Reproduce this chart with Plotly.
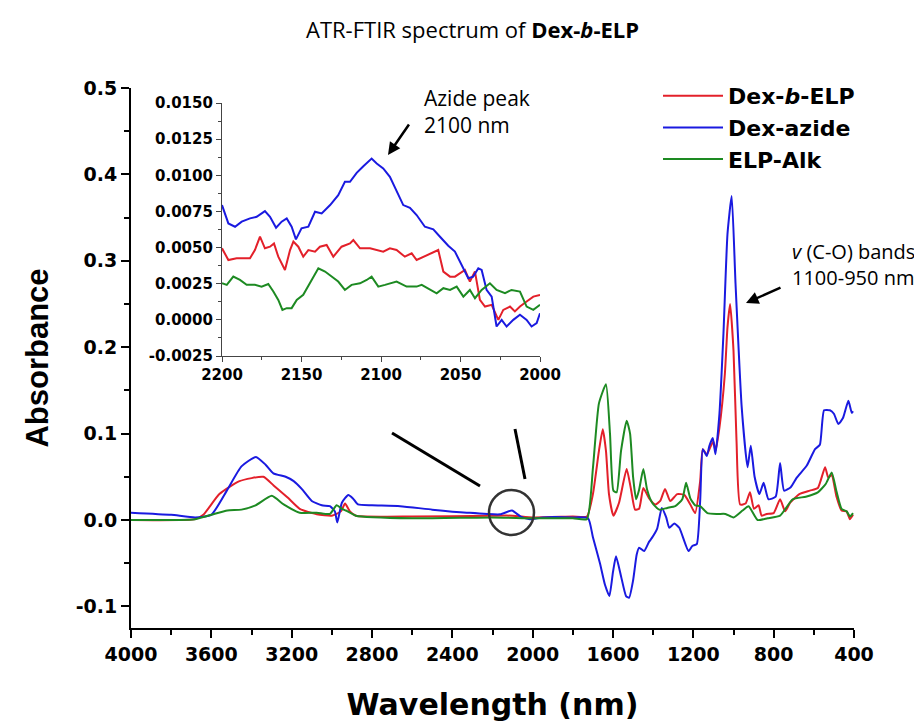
import plotly.graph_objects as go

# ---------------- data ----------------
# main spectrum: wavenumber axis labelled "Wavelength (nm)"
dexb_x = [4000, 3680, 3640, 3560, 3460, 3341, 3290, 3220, 3160, 3075, 3000, 2955, 2934, 2910, 2880,
          2600, 2200, 2100, 2000, 1800, 1730, 1700, 1670, 1651, 1635, 1620, 1598, 1570, 1532, 1510,
          1490, 1470, 1449, 1420, 1390, 1365, 1341, 1315, 1280, 1245, 1215, 1191, 1166, 1153, 1133,
          1116, 1100, 1090, 1070, 1043, 1030, 1017, 1000, 985, 967, 940, 918, 898, 875, 860, 835,
          800, 768, 743, 718, 672, 620, 580, 544, 528, 511, 487, 462, 437, 420, 405]
dexb_y = [0.0, 0.001, 0.006, 0.030, 0.045, 0.050, 0.040, 0.026, 0.013, 0.0066, 0.005, 0.010, 0.019, 0.010, 0.005,
          0.004, 0.005, 0.005, 0.003, 0.004, 0.004, 0.030, 0.080, 0.105, 0.080, 0.030, 0.005, 0.020, 0.059, 0.035,
          0.012, 0.013, 0.037, 0.025, 0.018, 0.022, 0.036, 0.022, 0.030, 0.029, 0.018, 0.008, 0.045, 0.082, 0.076,
          0.084, 0.091, 0.080, 0.107, 0.169, 0.223, 0.250, 0.196, 0.092, 0.018, 0.019, 0.032, 0.013, 0.017, 0.005, 0.007,
          0.008, 0.024, 0.010, 0.020, 0.030, 0.034, 0.037, 0.061, 0.049, 0.052, 0.027, 0.011, 0.010, 0.001, 0.006]

dexaz_x = [4000, 3800, 3680, 3600, 3523, 3450, 3378, 3330, 3291, 3230, 3190, 3150, 3100, 3050, 3010,
           2985, 2973, 2950, 2918, 2895, 2870, 2800, 2660, 2500, 2328, 2162, 2103, 2060, 2013, 1950,
           1800, 1724, 1700, 1665, 1640, 1618, 1600, 1585, 1560, 1535, 1520, 1500, 1482, 1470, 1445,
           1420, 1407, 1380, 1357, 1335, 1320, 1295, 1270, 1224, 1205, 1183, 1166, 1153, 1133, 1120,
           1103, 1090, 1070, 1050, 1030, 1009, 990, 959, 930, 914, 895, 871, 850, 826, 790, 768, 748,
           715, 685, 635, 594, 570, 549, 520, 500, 478, 455, 428, 411, 405]
dexaz_y = [0.0085, 0.006, 0.003, 0.006, 0.034, 0.062, 0.073, 0.064, 0.054, 0.050, 0.045, 0.036, 0.022, 0.017, 0.016,
           0.010, -0.003, 0.020, 0.029, 0.025, 0.018, 0.017, 0.016, 0.012, 0.0085, 0.0066, 0.011, 0.004, 0.001, 0.003,
           0.003, 0.002, -0.020, -0.050, -0.075, -0.088, -0.060, -0.042, -0.065, -0.088, -0.090, -0.070, -0.040, -0.032, -0.036,
           -0.025, -0.021, -0.010, 0.014, 0.003, -0.009, -0.004, -0.009, -0.036, -0.030, -0.028, 0.022, 0.082, 0.074, 0.086,
           0.095, 0.076, 0.123, 0.216, 0.331, 0.375, 0.274, 0.130, 0.061, 0.086, 0.050, 0.030, 0.043, 0.024, 0.027, 0.066, 0.034,
           0.038, 0.049, 0.063, 0.082, 0.087, 0.127, 0.127, 0.123, 0.111, 0.118, 0.138, 0.124, 0.126]

elp_x = [4000, 3680, 3600, 3520, 3450, 3380, 3299, 3240, 3160, 3075, 3010, 2976, 2950, 2930, 2880,
         2600, 2200, 2000, 1800, 1730, 1700, 1670, 1635, 1615, 1598, 1582, 1560, 1532, 1515, 1500,
         1485, 1470, 1449, 1430, 1405, 1370, 1330, 1290, 1255, 1236, 1215, 1191, 1166, 1130, 1080,
         1040, 1000, 955, 925, 880, 830, 768, 705, 640, 580, 540, 511, 487, 462, 437, 420, 405]
elp_y = [0.0, 0.001, 0.006, 0.011, 0.012, 0.017, 0.028, 0.018, 0.0085, 0.0085, 0.007, 0.017, 0.013, 0.011, 0.005,
         0.002, 0.003, 0.002, 0.002, 0.001, 0.060, 0.135, 0.157, 0.100, 0.034, 0.032, 0.080, 0.115, 0.100, 0.050,
         0.024, 0.035, 0.059, 0.035, 0.020, 0.012, 0.014, 0.016, 0.024, 0.043, 0.025, 0.017, 0.016, 0.008, 0.007,
         0.007, 0.003, 0.011, 0.016, 0.000, 0.002, 0.005, 0.024, 0.027, 0.032, 0.042, 0.055, 0.033, 0.013, 0.010, 0.004, 0.008]

# inset (2200-2000 region)
in_dexb_x = [2200, 2196, 2190.8, 2182.4, 2179.3, 2176.1, 2173, 2169.8, 2167.3, 2164.6, 2160.4, 2157.2, 2155.1,
             2152, 2148.9, 2145.7, 2141.5, 2138.4, 2134.2, 2130, 2124.8, 2119.5, 2117.4, 2113.2, 2106.9, 2098.6,
             2094.4, 2090.2, 2085, 2080.7, 2077.6, 2073.4, 2068.2, 2064, 2060.8, 2056.6, 2053.5, 2050.3, 2047.2,
             2044.1, 2040.9, 2037.8, 2034.6, 2030.4, 2026.2, 2023.1, 2018.9, 2015.8, 2012.6, 2008.4, 2004.2, 2000]
in_dexb_y = [0.00495, 0.00414, 0.00426, 0.00426, 0.00483, 0.00575, 0.00495, 0.00506, 0.00529, 0.00437, 0.00345,
             0.00483, 0.00541, 0.00506, 0.00437, 0.00483, 0.00472, 0.00506, 0.00518, 0.00437, 0.00506, 0.00529,
             0.00552, 0.00495, 0.00495, 0.00472, 0.00495, 0.00483, 0.00437, 0.00460, 0.00414, 0.00437, 0.00460,
             0.00483, 0.00334, 0.00299, 0.00299, 0.00322, 0.00345, 0.00265, 0.00334, 0.00138, 0.00092, 0.00104,
             0.0, 0.00069, 0.00092, 0.00058, 0.00092, 0.00127, 0.00161, 0.00173]

in_dexaz_x = [2200, 2196, 2191.8, 2187.6, 2182.4, 2178.2, 2173, 2169.8, 2166, 2162.5, 2159.3, 2156.2, 2153.5,
              2150, 2145.7, 2141.5, 2137.3, 2132, 2126.9, 2122.7, 2119.5, 2115.3, 2111.1, 2105.9, 2102.7, 2098.6,
              2094.4, 2090.2, 2086, 2081.8, 2077.6, 2072.4, 2067.1, 2062.9, 2057.7, 2053.5, 2049.3, 2045.1, 2042,
              2038.8, 2036.7, 2033.6, 2030.4, 2027.3, 2024.1, 2021, 2016.8, 2012.6, 2008.4, 2005.3, 2002.1, 2000]
in_dexaz_y = [0.00794, 0.00667, 0.00644, 0.00679, 0.00702, 0.00713, 0.00752, 0.00713, 0.00637, 0.00679, 0.00702,
              0.00644, 0.00557, 0.00633, 0.00644, 0.00748, 0.00736, 0.00794, 0.00863, 0.00955, 0.00955, 0.01017,
              0.01063, 0.01116, 0.01081, 0.01047, 0.00989, 0.00886, 0.00794, 0.00775, 0.00725, 0.00644, 0.00626,
              0.00575, 0.00513, 0.00472, 0.00380, 0.00288, 0.00299, 0.00357, 0.00345, 0.00207, 0.00161, -0.00046,
              0.0, -0.00046, 0.0, 0.00035, 0.0, -0.00046, -0.00023, 0.00046]

in_elp_x = [2200, 2197, 2192.9, 2188.7, 2184.5, 2179.3, 2175.1, 2170.9, 2167.7, 2164.6, 2162, 2159.3, 2156.2,
            2153, 2148.9, 2144.7, 2139.4, 2135.2, 2130, 2126.9, 2122.7, 2118.5, 2113.2, 2109, 2105.9, 2101.7,
            2097.5, 2090.2, 2083.9, 2077.6, 2074.4, 2069.2, 2065, 2060.8, 2056.6, 2052.4, 2048.2, 2044.1, 2040.9,
            2036.7, 2031.5, 2027.3, 2022, 2017.9, 2012.6, 2008.4, 2004.2, 2000]
in_elp_y = [0.00253, 0.00242, 0.00299, 0.00276, 0.00242, 0.00242, 0.00230, 0.00248, 0.00196, 0.00138, 0.00069,
            0.00081, 0.00081, 0.00138, 0.00173, 0.00253, 0.00357, 0.00334, 0.00288, 0.00265, 0.00207, 0.00242,
            0.00253, 0.00276, 0.00299, 0.00230, 0.00242, 0.00265, 0.00230, 0.00230, 0.00242, 0.00207, 0.00184,
            0.00219, 0.00207, 0.00230, 0.00161, 0.00207, 0.00150, 0.00207, 0.00253, 0.00207, 0.00184, 0.00207,
            0.00196, 0.00092, 0.00069, 0.00104]

series_names = ["Dex-<i>b</i>-ELP", "Dex-azide", "ELP-Alk"]

x_tick_vals = [4000, 3600, 3200, 2800, 2400, 2000, 1600, 1200, 800, 400]
x_tick_text = ["4000", "3600", "3200", "2800", "2400", "2000", "1600", "1200", "800", "400"]
y_tick_vals = [-0.1, 0.0, 0.1, 0.2, 0.3, 0.4, 0.5]
y_tick_text = ["-0.1", "0.0", "0.1", "0.2", "0.3", "0.4", "0.5"]
in_x_tick_vals = [2200, 2150, 2100, 2050, 2000]
in_x_tick_text = ["2200", "2150", "2100", "2050", "2000"]
in_y_tick_vals = [-0.0025, 0.0, 0.0025, 0.005, 0.0075, 0.01, 0.0125, 0.015]
in_y_tick_text = ["-0.0025", "0.0000", "0.0025", "0.0050", "0.0075", "0.0100", "0.0125", "0.0150"]

# ---------------- figure ----------------
OFF = 8  # page body margin of the html page
W, H = 922 - OFF, 722 - OFF
RED, BLUE, GREEN = "#e3202a", "#1a1ae0", "#1d8a22"
WIDE = "DejaVu Sans"
ARIAL = "Liberation Sans"
TXT = "Open Sans"

def px(x):
    return (x - OFF) / W

def py(y):
    return 1 - (y - OFF) / H

fig = go.Figure()
for xs, ys, name, col in [(dexb_x, dexb_y, series_names[0], RED),
                          (dexaz_x, dexaz_y, series_names[1], BLUE),
                          (elp_x, elp_y, series_names[2], GREEN)]:
    fig.add_trace(go.Scatter(x=xs, y=ys, name=name, mode="lines",
                             line=dict(color=col, width=2, shape="spline", smoothing=0.5),
                             xaxis="x", yaxis="y"))
for xs, ys, col in [(in_dexb_x, in_dexb_y, RED), (in_dexaz_x, in_dexaz_y, BLUE), (in_elp_x, in_elp_y, GREEN)]:
    fig.add_trace(go.Scatter(x=xs, y=ys, mode="lines", showlegend=False,
                             line=dict(color=col, width=2), xaxis="x2", yaxis="y2"))

axis_common = dict(showgrid=False, zeroline=False, showline=True, linecolor="black", ticks="outside",
                   tickcolor="black", automargin=False)

fig.update_layout(
    width=W, height=H,
    margin=dict(l=0, r=0, t=0, b=0, autoexpand=False),
    paper_bgcolor="white", plot_bgcolor="white",
    showlegend=True,
    legend=dict(x=px(658), y=py(75), xanchor="left", yanchor="top", bgcolor="rgba(0,0,0,0)",
                font=dict(family=WIDE, size=22, color="black", weight="bold"),
                itemwidth=60, tracegroupgap=0),
    xaxis=dict(domain=[px(131), px(854)], range=[4000, 400], anchor="y",
               tickvals=x_tick_vals, ticktext=x_tick_text, linewidth=2, ticklen=8, tickwidth=2,
               tickfont=dict(family=WIDE, size=19, color="black", weight="bold"),
               minor=dict(tickvals=[3800, 3400, 3000, 2600, 2200, 1800, 1400, 1000, 600],
                          ticks="outside", ticklen=5, tickwidth=1.5, tickcolor="black"),
               title=dict(text="Wavelength (nm)", standoff=30,
                          font=dict(family=WIDE, size=30, color="black", weight="bold")),
               **axis_common),
    yaxis=dict(domain=[py(628), py(88)], range=[-0.125, 0.5], anchor="x",
               tickvals=y_tick_vals, ticktext=y_tick_text, linewidth=2, ticklen=8, tickwidth=2,
               tickfont=dict(family=WIDE, size=19, color="black", weight="bold"),
               minor=dict(tickvals=[-0.05, 0.05, 0.15, 0.25, 0.35, 0.45],
                          ticks="outside", ticklen=5, tickwidth=1.5, tickcolor="black"),
               title=dict(text="Absorbance", standoff=18,
                          font=dict(family=ARIAL, size=31, color="black", weight="bold")),
               **axis_common),
    xaxis2=dict(domain=[px(222), px(540)], range=[2200, 2000], anchor="y2",
                tickvals=in_x_tick_vals, ticktext=in_x_tick_text, linewidth=1.2, ticklen=5, tickwidth=1.2,
                linecolor="#444", tickcolor="#444", automargin=False,
                tickfont=dict(family=WIDE, size=15, color="black", weight="bold"),
                minor=dict(tickvals=[2175, 2125, 2075, 2025], ticks="outside", ticklen=3,
                           tickwidth=1, tickcolor="#444"),
                showgrid=False, zeroline=False, showline=True, ticks="outside"),
    yaxis2=dict(domain=[py(356), py(103)], range=[-0.0025, 0.015], anchor="x2",
                tickvals=in_y_tick_vals, ticktext=in_y_tick_text, linewidth=1.2, ticklen=5, tickwidth=1.2,
                linecolor="#444", tickcolor="#444", automargin=False,
                tickfont=dict(family=WIDE, size=15, color="black", weight="bold"),
                minor=dict(tickvals=[-0.00125, 0.00125, 0.00375, 0.00625, 0.00875, 0.01125, 0.01375],
                           ticks="outside", ticklen=3, tickwidth=1, tickcolor="#444"),
                showgrid=False, zeroline=False, showline=True, ticks="outside"),
)

# title
fig.add_annotation(text="ATR-FTIR spectrum of <b>Dex-<i>b</i>-ELP</b>", xref="paper", yref="paper",
                   x=px(472), y=py(29), xanchor="center", yanchor="middle", showarrow=False,
                   font=dict(family=TXT, size=22, color="black"))

# annotations with arrows
fig.add_annotation(text="Azide peak<br>2100 nm", xref="paper", yref="paper",
                   x=px(422), y=py(82), xanchor="left", yanchor="top", align="left", showarrow=False,
                   font=dict(family=TXT, size=21, color="black"))
fig.add_annotation(text="", xref="paper", yref="paper", x=px(388), y=py(155),
                   ax=22, ay=-32, showarrow=True, arrowhead=2, arrowsize=1, arrowwidth=2.5, arrowcolor="black")
fig.add_annotation(text="<i>v</i> (C-O) bands<br>1100-950 nm", xref="paper", yref="paper",
                   x=px(790), y=py(236), xanchor="left", yanchor="top", align="left", showarrow=False,
                   font=dict(family=TXT, size=20, color="black"))
fig.add_annotation(text="", xref="paper", yref="paper", x=px(746), y=py(303),
                   ax=36, ay=-16, showarrow=True, arrowhead=2, arrowsize=1, arrowwidth=2.5, arrowcolor="black")

# zoom circle and connector lines
fig.add_shape(type="circle", xref="paper", yref="paper", x0=px(489), x1=px(534), y0=py(535), y1=py(490),
              line=dict(color="#333", width=2.5))
fig.add_shape(type="line", xref="paper", yref="paper", x0=px(392), y0=py(433), x1=px(480), y1=py(486),
              line=dict(color="black", width=3))
fig.add_shape(type="line", xref="paper", yref="paper", x0=px(515), y0=py(429), x1=px(525), y1=py(479),
              line=dict(color="black", width=3))

fig.write_html("out.html")
